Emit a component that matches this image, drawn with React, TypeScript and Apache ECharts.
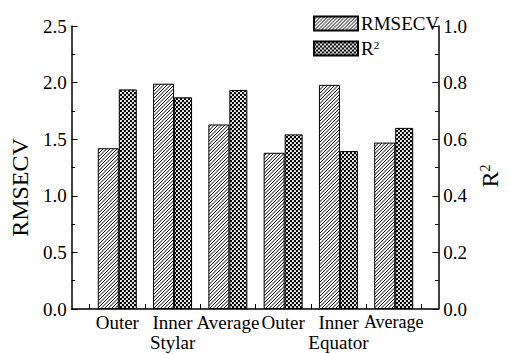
import React, { useEffect, useRef } from 'react';
import * as echarts from 'echarts';

const categories = ['Outer', 'Inner', 'Average', 'Outer', 'Inner', 'Average'];
const groupLabels = ['Stylar', 'Equator'];
const rmsecv = [1.42, 1.99, 1.63, 1.38, 1.98, 1.47];
const r2 = [0.776, 0.748, 0.774, 0.617, 0.558, 0.64];
const leftAxis = { min: 0, max: 2.5, interval: 0.5 };
const rightAxis = { min: 0, max: 1, interval: 0.2 };

const FONT = '"Liberation Serif", "Times New Roman", serif';

function hatchCanvas() {
  const c = document.createElement('canvas');
  c.width = 7;
  c.height = 7;
  const g = c.getContext('2d')!;
  g.fillStyle = '#fff';
  g.fillRect(0, 0, 7, 7);
  g.strokeStyle = '#000';
  g.lineWidth = 1;
  for (const k of [-7, -3.5, 0, 3.5, 7]) {
    g.beginPath();
    g.moveTo(k, 7);
    g.lineTo(k + 7, 0);
    g.stroke();
  }
  return c;
}

function crossCanvas() {
  const c = document.createElement('canvas');
  c.width = 4;
  c.height = 4;
  const g = c.getContext('2d')!;
  g.fillStyle = '#000';
  g.fillRect(0, 0, 4, 4);
  g.fillStyle = '#fff';
  for (const [x, y] of [[1, 1], [3, 3], [-1, 3], [3, -1], [5, 1], [1, 5], [-1, -1], [5, 5]]) {
    g.beginPath();
    g.arc(x, y, 1.1, 0, Math.PI * 2);
    g.fill();
  }
  return c;
}

export default function App() {
  const ref = useRef<HTMLDivElement>(null);
  useEffect(() => {
    if (!ref.current) return;
    const chart = echarts.init(ref.current, undefined, { renderer: 'svg' });
    const hatch = { image: hatchCanvas(), repeat: 'repeat' };
    const cross = { image: crossCanvas(), repeat: 'repeat' };
    const axisLine = { show: true, onZero: false, lineStyle: { color: '#000', width: 1.5 } };
    const yCommon = {
      type: 'value',
      gridIndex: 0,
      nameLocation: 'middle',
      nameRotate: 90,
      axisLine,
      axisTick: { show: true, inside: true, length: 6, lineStyle: { color: '#000', width: 1 } },
      minorTick: { show: true, splitNumber: 2, length: 3.5, lineStyle: { color: '#000', width: 1 } },
      splitLine: { show: false },
      minorSplitLine: { show: false },
    };
    const option: any = {
      animation: false,
      backgroundColor: '#fff',
      textStyle: { fontFamily: FONT, color: '#000' },
      legend: {
        orient: 'vertical',
        left: 308,
        top: 9,
        icon: 'rect',
        itemWidth: 44,
        itemHeight: 14,
        itemGap: 6,
        selectedMode: false,
        data: ['RMSECV', 'R2'],
        formatter: (n: string) => (n === 'R2' ? 'R{sup|2}' : n),
        textStyle: {
          fontFamily: FONT,
          fontSize: 19,
          color: '#000',
          padding: [0, 0, 0, -2],
          rich: { sup: { fontFamily: FONT, fontSize: 11, color: '#000', verticalAlign: 'top', padding: [0, 0, 8, 0] } },
        },
      },
      grid: [
        { left: 62, right: 61, top: 26, bottom: 45 },
        { left: 89.64, right: 88.64, top: 26, bottom: 45 },
      ],
      xAxis: [
        {
          type: 'value',
          gridIndex: 0,
          min: 0,
          max: 1,
          axisLine,
          axisTick: { show: false },
          axisLabel: { show: false },
          splitLine: { show: false },
        },
        {
          type: 'category',
          gridIndex: 1,
          data: categories,
          axisLine: { show: false },
          axisTick: { show: true, inside: true, length: 5, lineStyle: { color: '#000', width: 1 } },
          splitLine: { show: false },
          axisLabel: {
            fontFamily: FONT,
            fontSize: 19,
            color: '#000',
            margin: 3,
            lineHeight: 20,
            interval: 0,
            formatter: (v: string, i: number) => {
              if (i === 1) return v + '\n' + groupLabels[0];
              if (i === 4) return v + '\n' + groupLabels[1];
              if (i === 5) return '{s|' + v + '}';
              return v;
            },
            rich: { s: { fontFamily: FONT, fontSize: 18, color: '#000' } },
          },
        },
      ],
      yAxis: [
        {
          ...yCommon,
          position: 'left',
          ...leftAxis,
          name: 'RMSECV',
          nameGap: 33,
          nameTextStyle: { fontFamily: FONT, fontSize: 24, color: '#000', padding: [0, 40, 0, 0] },
          axisLabel: { fontFamily: FONT, fontSize: 19, color: '#000', margin: 5, formatter: (v: number) => v.toFixed(1) },
        },
        {
          ...yCommon,
          position: 'right',
          ...rightAxis,
          name: 'R{sup|2}',
          nameGap: 36,
          nameTextStyle: {
            fontFamily: FONT,
            fontSize: 24,
            color: '#000',
            padding: [0, 17, 0, 0],
            rich: { sup: { fontFamily: FONT, fontSize: 14, color: '#000', verticalAlign: 'top', padding: [0, 0, 9, 0] } },
          },
          axisLabel: { fontFamily: FONT, fontSize: 19, color: '#000', margin: 5, formatter: (v: number) => v.toFixed(1) },
        },
        { type: 'value', gridIndex: 1, show: false, ...leftAxis, splitLine: { show: false } },
        { type: 'value', gridIndex: 1, show: false, ...rightAxis, splitLine: { show: false } },
      ],
      series: [
        {
          name: 'RMSECV',
          type: 'bar',
          xAxisIndex: 1,
          yAxisIndex: 2,
          data: rmsecv,
          barWidth: 21,
          barGap: '0%',
          itemStyle: { color: hatch, borderColor: '#000', borderWidth: 1 },
        },
        {
          name: 'R2',
          type: 'bar',
          xAxisIndex: 1,
          yAxisIndex: 3,
          data: r2,
          barWidth: 18,
          barGap: '0%',
          itemStyle: { color: cross, borderColor: '#000', borderWidth: 1 },
        },
      ],
    };
    chart.setOption(option);
    return () => chart.dispose();
  }, []);
  return <div ref={ref} style={{ position: 'fixed', left: 0, top: 0, width: 510, height: 354 }} />;
}
